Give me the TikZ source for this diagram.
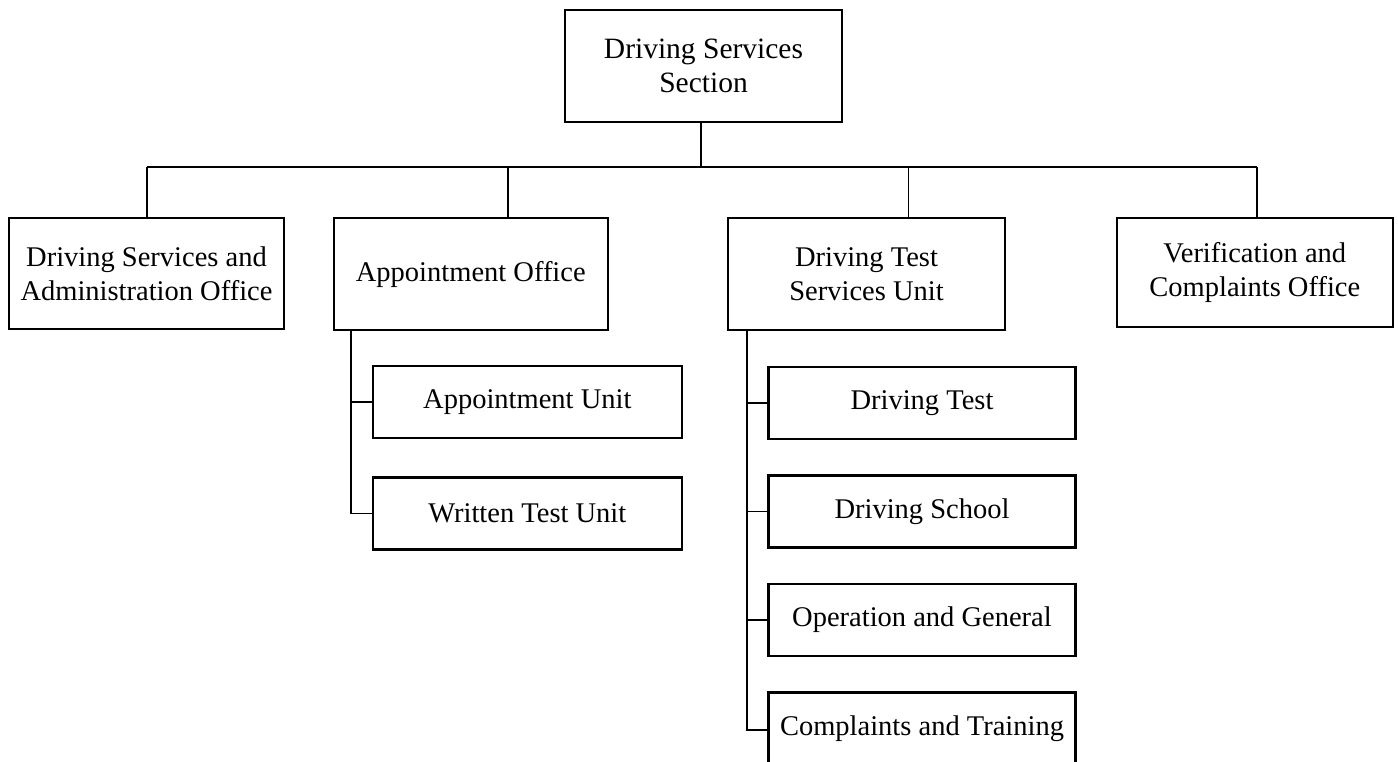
\documentclass[tikz,border=0pt]{standalone}
\usepackage{fontspec}
\setmainfont{Liberation Serif}
\begin{document}
\begin{tikzpicture}[x=1pt,y=-1pt,
  box/.style={draw=black, line width=2.1pt, rectangle, align=center, inner sep=2pt,
    font=\fontsize{28.5}{34.3}\selectfont},
  topbox/.style={box, minimum width=277pt, minimum height=112pt},
  midbox/.style={box, minimum width=276pt, minimum height=111pt},
  subbox/.style={box, minimum width=308pt, minimum height=72pt},
  conn/.style={draw=black, line width=1.8pt}]
\useasboundingbox (0,0) rectangle (1398,761);
\node[topbox, font=\fontsize{29.5}{34.3}\selectfont] (top) at (703.5,65.8) {Driving Services\\Section};
\node[midbox, minimum width=275pt] (dsao) at (146.5,273.5) {Driving Services and\\Administration Office};
\node[midbox, minimum width=274.5pt, minimum height=112pt] (appt) at (470.8,274) {Appointment Office};
\node[midbox, minimum width=277pt, minimum height=112pt] (dtsu) at (866.5,274) {Driving Test\\Services Unit};
\node[midbox, minimum height=109pt] (vco) at (1254.8,272.5) {Verification and\\Complaints Office};
\node[subbox, minimum width=309pt] (au) at (527.3,401.7) {Appointment Unit};
\node[subbox, minimum width=309pt] (wtu) at (527.3,513.5) {Written Test Unit};
\node[subbox, minimum width=307pt] (dt) at (922,402.8) {Driving Test};
\node[subbox, minimum width=307pt] (ds) at (922,511.5) {Driving School};
\node[subbox, minimum width=307pt] (og) at (922,619.6) {Operation and General};
\node[subbox, minimum width=307pt] (ct) at (922,728.5) {Complaints and Training};
% bus
\coordinate (b0) at (701,166.7);
\coordinate (b1) at (147,166.7);
\coordinate (b2) at (507.6,166.7);
\coordinate (b3) at (908.5,166.7);
\coordinate (b4) at (1257,166.7);
\draw[conn] (b1) -- (b4);
\draw[conn] (b0 |- top.south) -- (b0);
\draw[conn] (b1) -- (b1 |- dsao.north);
\draw[conn] (b2) -- (b2 |- appt.north);
\draw[conn] (b3) -- (b3 |- dtsu.north);
\draw[conn] (b4) -- (b4 |- vco.north);
% appointment branch
\coordinate (a0) at (351,0);
\draw[conn] (a0 |- appt.south) |- (wtu.west);
\draw[conn] (a0 |- au.west) -- (au.west);
% driving test branch
\coordinate (d0) at (747.3,0);
\draw[conn] (d0 |- dtsu.south) |- ([yshift=-1.2pt]ct.west);
\draw[conn] (d0 |- dt.west) -- (dt.west);
\draw[conn] (d0 |- ds.west) -- (ds.west);
\draw[conn] (d0 |- og.west) -- (og.west);
\end{tikzpicture}
\end{document}
